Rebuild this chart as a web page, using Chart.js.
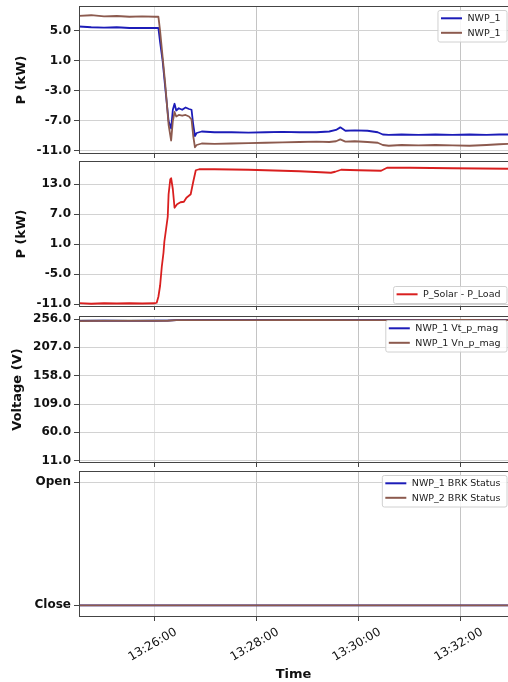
<!DOCTYPE html>
<html lang="en">
<head>
  <meta charset="UTF-8">
  <title>NWP power, voltage and breaker status</title>
  <script src="https://cdn.jsdelivr.net/npm/chart.js"></script>
  <style>
    body { margin: 0; background: #fff; }
    .wrap { position: relative; width: 508px; height: 682px; overflow: hidden; }
    .wrap canvas { position: absolute; left: 0; }
  </style>
</head>
<body>
  <div class="wrap">
    <canvas id="powerChart" width="508" height="160" style="top:0"></canvas>
    <canvas id="netChart" width="508" height="150" style="top:160px"></canvas>
    <canvas id="voltChart" width="508" height="158" style="top:310px"></canvas>
    <canvas id="brkChart" width="508" height="214" style="top:468px"></canvas>
  </div>

  <script>
    // ---- data ----
    const timeTicks = ['13:26:00', '13:28:00', '13:30:00', '13:32:00'];

    const pTimes = ['13:24:30', '13:24:45', '13:25:00', '13:25:15', '13:25:30', '13:25:45', '13:26:00',
      '13:26:04', '13:26:06', '13:26:09', '13:26:12', '13:26:16', '13:26:19', '13:26:21', '13:26:23',
      '13:26:25', '13:26:28', '13:26:32', '13:26:36', '13:26:40', '13:26:43', '13:26:45', '13:26:47',
      '13:26:49', '13:26:55', '13:27:10', '13:27:30', '13:27:50', '13:28:10', '13:28:30', '13:28:50',
      '13:29:10', '13:29:25', '13:29:33', '13:29:38', '13:29:44', '13:29:55', '13:30:10', '13:30:22',
      '13:30:28', '13:30:35', '13:30:50', '13:31:10', '13:31:30', '13:31:50', '13:32:10', '13:32:30',
      '13:32:45', '13:32:56'];
    const nwp1P = [5.6, 5.5, 5.45, 5.5, 5.4, 5.4, 5.4,
      5.4, 3.5, 1.0, -2.5, -7.0, -8.0, -5.5, -4.7,
      -5.6, -5.3, -5.5, -5.2, -5.4, -5.5, -7.5, -9.0,
      -8.6, -8.4, -8.5, -8.5, -8.55, -8.5, -8.45, -8.5,
      -8.5, -8.4, -8.2, -7.85, -8.3, -8.25, -8.3, -8.5,
      -8.8, -8.85, -8.8, -8.85, -8.8, -8.85, -8.8, -8.85,
      -8.8, -8.8];
    const nwp2P = [7.0, 7.1, 6.95, 7.0, 6.9, 6.95, 6.9,
      6.9, 5.0, 1.5, -2.0, -7.5, -9.6, -7.0, -5.8,
      -6.4, -6.2, -6.3, -6.2, -6.4, -6.8, -9.0, -10.5,
      -10.2, -10.0, -10.05, -10.0, -9.95, -9.9, -9.85, -9.8,
      -9.75, -9.8, -9.7, -9.45, -9.75, -9.7, -9.8, -9.9,
      -10.2, -10.3, -10.2, -10.25, -10.2, -10.25, -10.3, -10.2,
      -10.1, -10.05];

    const netTimes = ['13:24:30', '13:24:45', '13:25:00', '13:25:15', '13:25:30', '13:25:45', '13:26:00',
      '13:26:02', '13:26:04', '13:26:06', '13:26:08', '13:26:10', '13:26:11', '13:26:13', '13:26:15',
      '13:26:16', '13:26:18', '13:26:19', '13:26:21', '13:26:23', '13:26:26', '13:26:30', '13:26:34',
      '13:26:37', '13:26:42', '13:26:45', '13:26:48', '13:26:52', '13:27:10', '13:27:30', '13:27:50',
      '13:28:20', '13:28:50', '13:29:15', '13:29:27', '13:29:32', '13:29:39', '13:30:00', '13:30:26',
      '13:30:33', '13:31:00', '13:31:50', '13:32:56'];
    const netP = [-10.75, -10.9, -10.8, -10.85, -10.8, -10.85, -10.8,
      -10.7, -9.5, -7.3, -3.5, -0.7, 1.5, 4.0, 6.5,
      11.0, 14.0, 14.2, 12.0, 8.3, 9.0, 9.4, 9.5,
      10.3, 11.0, 13.5, 15.8, 16.0, 16.0, 15.95, 15.9,
      15.75, 15.6, 15.4, 15.3, 15.5, 15.9, 15.8, 15.7,
      16.3, 16.3, 16.2, 16.1];

    const vTimes = ['13:24:30', '13:25:00', '13:25:30', '13:26:00', '13:26:15', '13:26:25', '13:27:00',
      '13:28:00', '13:29:00', '13:30:00', '13:31:00', '13:32:00', '13:32:56'];
    const vtMag = [252.8, 253.0, 252.9, 253.0, 253.2, 254.2, 254.5, 254.4, 254.5, 254.5, 254.4, 254.5, 254.5];
    const vnMag = [252.5, 252.7, 252.6, 252.7, 253.0, 254.0, 254.2, 254.2, 254.3, 254.2, 254.2, 254.3, 254.2];

    const brkTimes = ['13:24:30', '13:32:56'];
    const brk1 = [0, 0];
    const brk2 = [0, 0];
    const brkLabels = ['Close', 'Open'];

    const pTicks = [-11, -7, -3, 1, 5];
    const netTicks = [-11, -5, 1, 7, 13];
    const vTicks = [11, 60, 109, 158, 207, 256];
    const brkTicks = [0, 1];

    // ---- helpers ----
    const BLUE = '#1c1cb8';
    const BROWN = '#8c5a4e';
    const RED = '#d91f1f';

    function toSec(t) {
      const p = t.split(':').map(Number);
      return p[0] * 3600 + p[1] * 60 + p[2];
    }
    function fmtClock(s) {
      const h = Math.floor(s / 3600), m = Math.floor(s / 60) % 60, sec = Math.round(s % 60);
      return [h, m, sec].map(v => String(v).padStart(2, '0')).join(':');
    }
    function series(times, values) {
      return times.map((t, i) => ({ x: toSec(t), y: values[i] }));
    }
    function line(label, times, values, color) {
      return { label, data: series(times, values), borderColor: color, backgroundColor: color,
        borderWidth: 1.8, pointRadius: 0, tension: 0, borderJoinStyle: 'round' };
    }

    const xMin = toSec('13:26:00') - 89.4;
    const xMax = toSec('13:32:00') + 55.3;
    const firstTick = toSec(timeTicks[0]);

    // frame around each plot area
    const frame = {
      id: 'frame',
      afterDatasetsDraw(chart) {
        const { ctx, chartArea: a } = chart;
        ctx.save();
        ctx.strokeStyle = '#444';
        ctx.lineWidth = 1;
        ctx.strokeRect(Math.round(a.left) + 0.5, Math.round(a.top) + 0.5,
          Math.round(a.right - a.left), Math.round(a.bottom - a.top) - 1);
        ctx.restore();
      }
    };

    // matplotlib style legend box inside the plot area
    const boxLegend = {
      id: 'boxLegend',
      afterDatasetsDraw(chart, args, opts) {
        const { ctx, chartArea: a } = chart;
        const sets = chart.data.datasets;
        ctx.save();
        ctx.font = '9.5px "DejaVu Sans"';
        const rowH = 14.5;
        const textW = Math.max(...sets.map(d => ctx.measureText(d.label).width));
        const w = 30 + textW + 6;
        const h = sets.length * rowH + 2.5;
        const x = a.right - 1.5 - w;
        const y = opts.corner === 'bottom' ? a.bottom - 4 - h : a.top + 4;
        ctx.fillStyle = 'rgba(255,255,255,0.85)';
        ctx.strokeStyle = '#d0d0d0';
        ctx.lineWidth = 1;
        ctx.beginPath();
        ctx.roundRect(x + 0.5, y + 0.5, w, h, 2);
        ctx.fill();
        ctx.stroke();
        sets.forEach((d, i) => {
          const cy = y + 8.3 + i * rowH;
          ctx.strokeStyle = d.borderColor;
          ctx.lineWidth = 2;
          ctx.beginPath();
          ctx.moveTo(x + 3.5, cy);
          ctx.lineTo(x + 24.5, cy);
          ctx.stroke();
          ctx.fillStyle = '#222';
          ctx.textBaseline = 'middle';
          ctx.fillText(d.label, x + 30, cy + 0.5);
        });
        ctx.restore();
      }
    };

    function makeChart(id, cfg) {
      // later series sit on top, as in the original plot
      cfg.datasets.forEach((d, i, arr) => { d.order = arr.length - 1 - i; });
      return new Chart(document.getElementById(id), {
        type: 'line',
        data: { datasets: cfg.datasets },
        plugins: [frame, boxLegend],
        options: {
          responsive: false,
          animation: false,
          layout: { padding: { top: cfg.padTop, left: 0, right: 0, bottom: 0 }, autoPadding: false },
          plugins: {
            legend: { display: false },
            tooltip: { enabled: false },
            boxLegend: { corner: cfg.legendCorner || 'top' }
          },
          scales: {
            x: {
              type: 'linear',
              min: xMin,
              max: xMax,
              afterBuildTicks: s => { s.ticks = timeTicks.map(t => ({ value: toSec(t) })); },
              afterFit: s => { s.height = cfg.xHeight; s.paddingLeft = 0; s.paddingRight = 0; },
              ticks: {
                display: !!cfg.xLabels,
                autoSkip: false,
                minRotation: 30,
                maxRotation: 30,
                labelOffset: 21,
                padding: 4,
                color: '#111',
                font: { family: 'DejaVu Sans', size: 12 },
                callback: v => fmtClock(v)
              },
              grid: {
                color: c => (c.tick && c.tick.value === firstTick) ? '#e2e2e2' : '#c4c4c4',
                tickColor: '#444',
                tickLength: 4
              },
              border: { display: false },
              title: {
                display: !!cfg.xLabels,
                text: 'Time',
                color: '#111',
                font: { family: 'DejaVu Sans', size: 13, weight: 'bold' },
                padding: { top: 0, bottom: 0 }
              }
            },
            y: {
              min: cfg.yMin,
              max: cfg.yMax,
              afterBuildTicks: s => { s.ticks = cfg.yTicks.map(v => ({ value: v })); },
              afterFit: s => { s.width = 79; s.paddingTop = 0; s.paddingBottom = 0; },
              ticks: {
                autoSkip: false,
                padding: 3,
                color: '#111',
                font: { family: 'DejaVu Sans', size: 12, weight: 'bold' },
                callback: cfg.yFormat || (v => v.toFixed(1))
              },
              grid: { color: '#d2d2d2', tickColor: '#444', tickLength: 5 },
              border: { display: false },
              title: {
                display: !!cfg.yTitle,
                text: cfg.yTitle,
                color: '#111',
                font: { family: 'DejaVu Sans', size: 13, weight: 'bold' },
                padding: { top: cfg.yTitlePad || 14, bottom: 0 }
              }
            }
          }
        }
      });
    }

    makeChart('powerChart', {
      datasets: [line('NWP_1', pTimes, nwp1P, BLUE), line('NWP_1', pTimes, nwp2P, BROWN)],
      padTop: 6, xHeight: 6,
      yMin: -11.4, yMax: 8.33, yTicks: pTicks, yTitle: 'P (kW)'
    });

    makeChart('netChart', {
      datasets: [line('P_Solar - P_Load', netTimes, netP, RED)],
      padTop: 1, xHeight: 3, legendCorner: 'bottom',
      yMin: -11.55, yMax: 17.65, yTicks: netTicks, yTitle: 'P (kW)'
    });

    makeChart('voltChart', {
      datasets: [line('NWP_1 Vt_p_mag', vTimes, vtMag, BLUE), line('NWP_1 Vn_p_mag', vTimes, vnMag, BROWN)],
      padTop: 6, xHeight: 5,
      yMin: 7, yMax: 261.2, yTicks: vTicks, yTitle: 'Voltage (V)', yTitlePad: 10
    });

    makeChart('brkChart', {
      datasets: [line('NWP_1 BRK Status', brkTimes, brk1, BLUE), line('NWP_2 BRK Status', brkTimes, brk2, BROWN)],
      padTop: 3, xHeight: 65, xLabels: true,
      yMin: -0.095, yMax: 1.092, yTicks: brkTicks, yFormat: v => brkLabels[v]
    });
  </script>
</body>
</html>
